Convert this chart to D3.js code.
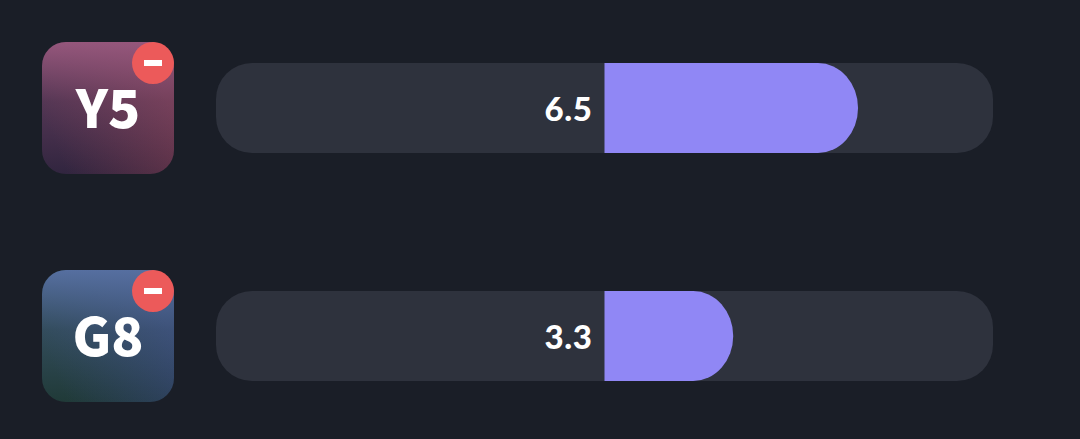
<!DOCTYPE html>
<html><head><meta charset="utf-8">
<script src="https://cdnjs.cloudflare.com/ajax/libs/d3/7.8.5/d3.min.js"></script>
<style>html,body{margin:0;padding:0;background:#1a1e27;overflow:hidden}svg{display:block}</style>
</head><body><svg id="c" width="1080" height="439"></svg>
<script>
const categories = ["Y5", "G8"];
const values = [6.5, 3.3];
const topColors = ["#95577c", "#566fa0"];
const bottomLeft = ["#31253f", "#203a38"];
const bottomRight = ["#643449", "#304264"];
const domainX = [-9.96, 9.96];

const svg = d3.select("#c");
const x = d3.scaleLinear().domain(domainX).range([216, 993]);
const y = d3.scalePoint().domain(categories).range([108, 336]);
const defs = svg.append("defs");
categories.forEach((c, i) => {
  const h = defs.append("linearGradient").attr("id", "h" + i)
    .attr("x1", "0.15").attr("y1", "0.9").attr("x2", "1").attr("y2", "0.55");
  h.append("stop").attr("offset", "0").attr("stop-color", bottomLeft[i]);
  h.append("stop").attr("offset", "1").attr("stop-color", bottomRight[i]);
  const v = defs.append("linearGradient").attr("id", "v" + i)
    .attr("x1", "0.5").attr("y1", "0").attr("x2", "0.5").attr("y2", "1");
  v.append("stop").attr("offset", "0").attr("stop-color", topColors[i]).attr("stop-opacity", 1);
  v.append("stop").attr("offset", "0.45").attr("stop-color", topColors[i]).attr("stop-opacity", 0.35);
  v.append("stop").attr("offset", "1").attr("stop-color", topColors[i]).attr("stop-opacity", 0);
});
const row = svg.selectAll("g.row").data(categories).join("g").attr("class", "row")
  .attr("transform", d => `translate(0,${y(d)})`);
row.append("rect").attr("x", x(domainX[0])).attr("y", -45)
  .attr("width", x(domainX[1]) - x(domainX[0])).attr("height", 90)
  .attr("rx", 36).attr("fill", "#2e323d");
row.append("path").attr("fill", "#9087f5").attr("d", (d, i) => {
  const x0 = x(0), x1 = x(values[i]), r = 40;
  return `M${x0},-45H${x1 - r}A${r},${r+5} 0 0 1 ${x1},0A${r},${r+5} 0 0 1 ${x1 - r},45H${x0}Z`;
});
row.append("text").attr("x", x(0) - 12).attr("y", 0).attr("dy", "0.38em")
  .attr("text-anchor", "end").attr("fill", "#fff").attr("letter-spacing", "0.6px")
  .attr("font-family", "Lato").attr("font-weight", 900).attr("font-size", 33)
  .text((d, i) => values[i].toFixed(1));
["h", "v"].forEach(k => {
  row.append("rect").attr("x", 42).attr("y", -66).attr("width", 132).attr("height", 132)
    .attr("rx", 24).attr("fill", (d, i) => `url(#${k}${i})`);
});
row.append("text").attr("x", 108).attr("y", 1).attr("dy", "0.36em")
  .attr("text-anchor", "middle").attr("fill", "#fff")
  .attr("font-family", "'Noto Sans CJK JP'").attr("font-weight", 900).attr("font-size", 53)
  .text(d => d);
row.append("circle").attr("cx", 153).attr("cy", -45).attr("r", 21).attr("fill", "#ec5a5a");
row.append("rect").attr("x", 144).attr("y", -48).attr("width", 18).attr("height", 6).attr("fill", "#fff");
</script></body></html>
